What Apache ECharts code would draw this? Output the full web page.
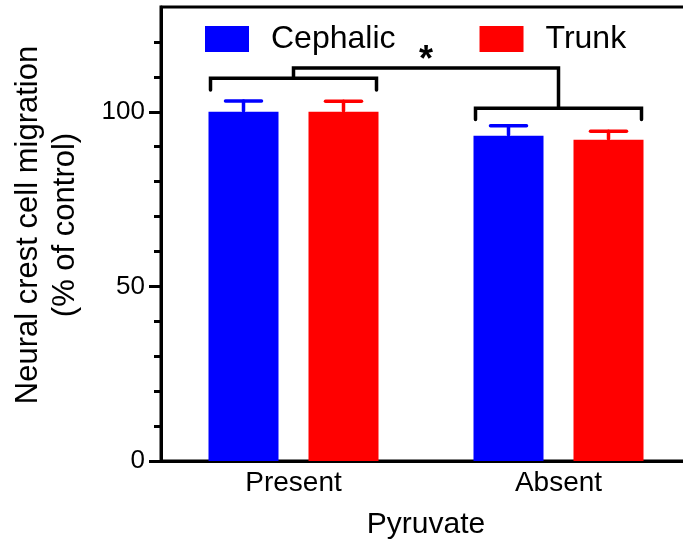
<!DOCTYPE html>
<html>
<head>
<meta charset="utf-8">
<script src="https://cdn.jsdelivr.net/npm/echarts@6/dist/echarts.min.js"></script>
<style>
html,body{margin:0;padding:0;background:#fff;}
#chart{width:683px;height:546px;}
</style>
</head>
<body>
<div id="chart"></div>
<script>
// ---- data ----
var categories = ['Present', 'Absent'];
var seriesNames = ['Cephalic', 'Trunk'];
var cephalicValues = [100.0, 93.1];
var cephalicErrors = [3.1, 2.9];
var trunkValues = [100.0, 92.0];
var trunkErrors = [3.0, 2.4];
var yMajorTicks = [0, 50, 100];
var yMinorTicks = [10, 20, 30, 40, 60, 70, 80, 90, 110, 120];
var yMax = 130;
// significance bracket levels (data units)
var leftBracket = [109.6, 106.2];   // [bar level, end level]
var rightBracket = [101.0, 97.8];
var connectorTop = 112.5;
var starLevel = 116.9;
var starText = '*';

// ---- styles ----
var FONT = '"Liberation Sans", Arial, Helvetica, sans-serif';
var colors = ['#0000ff', '#ff0000'];
var BAR_W = 70, BAR_GAP = 30;

var chart = echarts.init(document.getElementById('chart'), null, {renderer: 'canvas'});

var errData = [];
[cephalicValues, trunkValues].forEach(function (vals, s) {
  var errs = s === 0 ? cephalicErrors : trunkErrors;
  vals.forEach(function (v, i) { errData.push([i, v, v + errs[i], s]); });
});

function errRender(params, api) {
  var i = api.value(0), s = api.value(3);
  var off = (s === 0 ? -1 : 1) * (BAR_W + BAR_GAP) / 2;
  var p0 = api.coord([i, api.value(1)]);
  var p1 = api.coord([i, api.value(2)]);
  var x = p0[0] + off;
  var st = {stroke: colors[s], lineWidth: 3.5, lineCap: 'round'};
  return {
    type: 'group',
    children: [
      {type: 'line', shape: {x1: x, y1: p0[1] - 1, x2: x, y2: p1[1]}, style: st},
      {type: 'line', shape: {x1: x - 18, y1: p1[1], x2: x + 18, y2: p1[1]}, style: st}
    ]
  };
}

function bracketRender(params, api) {
  var half = BAR_W + BAR_GAP / 2 - 2;
  var a = api.coord([0, leftBracket[0]]);
  var aEnd = api.coord([0, leftBracket[1]]);
  var b = api.coord([1, rightBracket[0]]);
  var bEnd = api.coord([1, rightBracket[1]]);
  var top = api.coord([0, connectorTop])[1];
  var star = api.coord([0, starLevel])[1];
  var st = {stroke: '#000', lineWidth: 3.5, lineCap: 'round', lineJoin: 'miter', fill: null};
  return {
    type: 'group',
    children: [
      {type: 'polyline', shape: {points: [[a[0] - half, aEnd[1]], [a[0] - half, a[1]], [a[0] + half, a[1]], [a[0] + half, aEnd[1]]]}, style: st},
      {type: 'polyline', shape: {points: [[b[0] - half, bEnd[1]], [b[0] - half, b[1]], [b[0] + half, b[1]], [b[0] + half, bEnd[1]]]}, style: st},
      {type: 'polyline', shape: {points: [[a[0], a[1]], [a[0], top], [b[0], top], [b[0], b[1]]]}, style: st},
      {type: 'text', style: {text: starText, x: (a[0] + b[0]) / 2, y: star + 8, align: 'center', verticalAlign: 'middle',
        font: 'bold 36px ' + FONT, fill: '#000'}}
    ]
  };
}

var option = {
  animation: false,
  backgroundColor: '#fff',
  grid: {left: 161, top: 7, width: 530, height: 454, show: true, borderColor: '#000', borderWidth: 3,
    backgroundColor: 'transparent', outerBoundsMode: 'none', containLabel: false},
  legend: {
    data: seriesNames, left: 205, top: 23, itemWidth: 44, itemHeight: 26, itemGap: 84, icon: 'rect', padding: 0,
    textStyle: {fontSize: 32, color: '#000', fontFamily: FONT, padding: [0, 0, 0, 17]}
  },
  xAxis: {
    type: 'category', data: categories,
    axisLine: {lineStyle: {color: '#000', width: 3}},
    axisTick: {show: false},
    axisLabel: {fontSize: 28, color: '#000', fontFamily: FONT, margin: 8},
    name: 'Pyruvate', nameLocation: 'middle', nameGap: 49,
    nameTextStyle: {fontSize: 30, color: '#000', fontFamily: FONT},
    splitLine: {show: false}
  },
  yAxis: [{
    type: 'value', min: 0, max: yMax, interval: 10,
    axisLine: {show: true, lineStyle: {color: '#000', width: 3}},
    axisTick: {show: true, length: 12, lineStyle: {color: '#000', width: 3}, customValues: yMajorTicks},
    axisLabel: {fontSize: 26, color: '#000', fontFamily: FONT, margin: 16, customValues: yMajorTicks},
    splitLine: {show: false}
  }, {
    type: 'value', min: 0, max: yMax, interval: 10, position: 'left',
    axisLine: {show: false},
    axisTick: {show: true, length: 7, lineStyle: {color: '#000', width: 3}, customValues: yMinorTicks},
    axisLabel: {show: false},
    splitLine: {show: false}
  }],
  graphic: [{
    type: 'text', x: 47, y: 225, rotation: Math.PI / 2,
    style: {text: 'Neural crest cell migration\n(% of control)', align: 'center', verticalAlign: 'middle',
      font: '31px ' + FONT, lineHeight: 37, fill: '#000'}
  }],
  series: [
    {name: seriesNames[0], type: 'bar', data: cephalicValues, barWidth: BAR_W, barGap: (BAR_GAP / BAR_W * 100) + '%',
      itemStyle: {color: colors[0]}, z: 2},
    {name: seriesNames[1], type: 'bar', data: trunkValues, barWidth: BAR_W,
      itemStyle: {color: colors[1]}, z: 2},
    {name: 'errors', type: 'custom', renderItem: errRender, data: errData, z: 1,
      encode: {x: 0, y: [1, 2]}},
    {name: 'brackets', type: 'custom', renderItem: bracketRender, data: [[0, connectorTop]], z: 3,
      encode: {x: 0, y: 1}}
  ]
};
chart.setOption(option);
</script>
</body>
</html>
